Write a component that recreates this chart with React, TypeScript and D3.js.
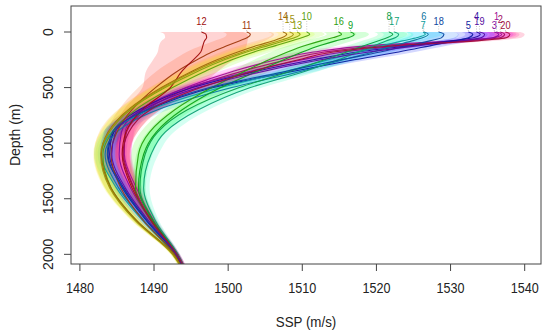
import * as d3 from 'd3';

// depth levels (m) shared by every profile
const DEPTHS = [0, 20, 50, 80, 120, 180, 250, 350, 500, 700, 900, 1100, 1400, 1700, 2000, 2100];

const PROFILE_IDS = [1, 2, 3, 4, 5, 6, 7, 8, 9, 10, 11, 12, 13, 14, 15, 16, 17, 18, 19, 20];

// sound speed (m/s) per profile, one value per depth level
const SSP: number[][] = [
  [1536.2, 1536.9, 1536.0, 1530.5, 1519.5, 1511.5, 1506.5, 1500.8, 1494.3, 1488.6, 1486.1, 1486.0, 1487.6, 1490.0, 1493.2, 1494.0],
  [1536.7, 1537.3, 1536.8, 1532.0, 1521.5, 1513.0, 1508.0, 1502.0, 1495.0, 1489.0, 1486.3, 1485.9, 1487.3, 1489.8, 1493.2, 1494.0],
  [1535.9, 1536.5, 1535.8, 1531.5, 1524.0, 1515.5, 1510.0, 1503.2, 1494.5, 1488.2, 1485.6, 1485.3, 1486.8, 1489.6, 1493.1, 1493.9],
  [1533.5, 1534.0, 1533.2, 1530.0, 1525.0, 1517.5, 1511.5, 1504.0, 1495.2, 1488.0, 1484.5, 1484.0, 1485.9, 1489.1, 1493.0, 1493.8],
  [1532.4, 1533.0, 1532.5, 1530.5, 1527.5, 1523.0, 1517.0, 1509.0, 1498.0, 1489.3, 1484.6, 1483.8, 1485.7, 1489.0, 1492.9, 1493.8],
  [1526.4, 1527.0, 1526.3, 1524.8, 1522.5, 1519.5, 1515.5, 1510.0, 1500.5, 1490.5, 1485.0, 1483.4, 1485.2, 1488.7, 1492.8, 1493.7],
  [1526.3, 1526.6, 1525.5, 1523.5, 1521.0, 1517.5, 1513.5, 1508.0, 1499.0, 1489.5, 1484.3, 1482.9, 1484.9, 1488.5, 1492.7, 1493.7],
  [1521.7, 1522.2, 1521.5, 1520.2, 1518.5, 1516.0, 1513.0, 1508.5, 1501.5, 1494.5, 1490.5, 1488.8, 1488.1, 1489.9, 1493.1, 1493.9],
  [1516.5, 1517.0, 1516.3, 1514.5, 1512.5, 1510.0, 1507.5, 1504.0, 1499.0, 1493.8, 1490.3, 1488.6, 1487.9, 1489.9, 1493.1, 1493.9],
  [1510.6, 1511.0, 1510.0, 1508.5, 1506.5, 1503.5, 1500.5, 1497.0, 1492.5, 1487.5, 1484.4, 1483.1, 1484.2, 1487.7, 1492.6, 1493.6],
  [1502.5, 1503.0, 1502.6, 1501.5, 1500.0, 1497.8, 1495.8, 1493.2, 1490.2, 1487.0, 1485.0, 1484.2, 1485.5, 1488.6, 1492.8, 1493.7],
  [1496.4, 1497.0, 1497.1, 1496.8, 1496.6, 1496.3, 1495.3, 1493.8, 1492.2, 1488.4, 1486.2, 1485.7, 1487.0, 1489.7, 1493.0, 1493.8],
  [1509.3, 1509.7, 1509.0, 1507.5, 1505.5, 1502.5, 1499.5, 1496.0, 1491.5, 1486.8, 1484.0, 1482.9, 1484.1, 1487.6, 1492.6, 1493.6],
  [1507.4, 1507.9, 1507.3, 1506.0, 1504.0, 1501.3, 1498.5, 1495.2, 1491.0, 1486.5, 1483.8, 1482.9, 1484.2, 1487.7, 1492.6, 1493.6],
  [1508.3, 1508.8, 1508.2, 1506.8, 1504.8, 1502.0, 1499.0, 1495.5, 1491.2, 1486.6, 1483.9, 1482.8, 1484.0, 1487.5, 1492.5, 1493.5],
  [1514.9, 1515.3, 1514.2, 1512.5, 1510.5, 1508.0, 1505.5, 1502.3, 1497.8, 1492.8, 1489.4, 1487.9, 1487.5, 1489.6, 1493.0, 1493.8],
  [1522.4, 1523.0, 1522.6, 1521.3, 1519.8, 1517.5, 1514.8, 1510.5, 1503.0, 1496.0, 1491.5, 1489.6, 1488.6, 1490.2, 1493.2, 1493.9],
  [1528.4, 1529.1, 1528.8, 1527.2, 1524.5, 1520.5, 1515.2, 1508.0, 1497.5, 1489.0, 1484.4, 1483.7, 1485.8, 1489.1, 1493.0, 1493.8],
  [1533.9, 1534.6, 1534.2, 1531.5, 1526.0, 1519.0, 1512.5, 1505.0, 1496.0, 1488.5, 1484.8, 1484.3, 1486.1, 1489.3, 1493.0, 1493.8],
  [1537.4, 1538.0, 1537.6, 1533.5, 1523.0, 1514.2, 1509.5, 1503.5, 1496.3, 1489.5, 1486.6, 1485.8, 1487.2, 1489.6, 1493.1, 1493.9],
];

// spread (m/s) of the shaded band at each depth level
const SPREAD = [2.0, 2.0, 2.0, 2.2, 2.3, 2.2, 2.0, 1.8, 1.6, 1.4, 1.2, 1.0, 0.8, 0.5, 0.3, 0.3];
// extra spread in the upper ocean, per profile, and how it fades with depth
const UPPER_EXTRA = [0, 0, 0, 0, 0, 0.3, 0.3, 0, 0, 0, 1.2, 3.6, 0, 0, 0, 0, 0, 0, 0, 0];
const UPPER_FADE = [1, 1, 1, 1, 1, 1, 0.95, 0.85, 0.6, 0.3, 0.1, 0, 0, 0, 0, 0];

// label stagger row per profile (0 = closest to the surface)
const LABEL_TIER = [3, 2, 0, 3, 0, 3, 0, 3, 0, 3, 0, 1, 0, 3, 2, 1, 1, 1, 1, 0];

const X_TICKS = [1480, 1490, 1500, 1510, 1520, 1530, 1540];
const Y_TICKS = [0, 500, 1000, 1500, 2000];

const W = 550;
const H = 334;
const PLOT = { left: 71, right: 541, top: 6, bottom: 264 };
const FONT = '"Liberation Sans", Arial, Helvetica, sans-serif';
const TIER_LIFT = [7, 11, 13, 16];

export default function App() {
  const x = d3.scaleLinear().domain([1478.8, 1542.2]).range([PLOT.left, PLOT.right]);
  const y = d3.scaleLinear().domain([-234, 2087]).range([PLOT.top, PLOT.bottom]);

  // colour by rank of surface speed, rainbow from red to magenta
  const order = d3.sort(d3.range(SSP.length), (i) => SSP[i][0]);
  const rank: number[] = [];
  order.forEach((idx, r) => (rank[idx] = r));
  const hue = (i: number) => (rank[i] / PROFILE_IDS.length) * 360;
  const lineColor = (i: number) => d3.hsl(hue(i), 0.85, 0.34).formatHex();
  const bandColor = (i: number) => d3.hsl(hue(i), 1, 0.5).formatHex();

  const line = d3
    .line<number>()
    .x((v) => x(v))
    .y((_, k) => y(DEPTHS[k]))
    .curve(d3.curveMonotoneY);

  const halfWidth = (i: number, k: number) => SPREAD[k] + UPPER_EXTRA[i] * UPPER_FADE[k];

  const band = (i: number) =>
    d3
      .area<number>()
      .y((_, k) => y(DEPTHS[k]))
      .x0((v, k) => x(v - halfWidth(i, k)))
      .x1((v, k) => x(v + halfWidth(i, k)))
      .curve(d3.curveMonotoneY)(SSP[i]) || '';

  const y0 = y(0);

  return (
    <svg
      width={W}
      height={H}
      style={{ position: 'absolute', left: 0, top: 0, background: '#fff' }}
      fontFamily={FONT}
    >
      <defs>
        <clipPath id="plot-clip">
          <rect x={PLOT.left} y={PLOT.top} width={PLOT.right - PLOT.left} height={PLOT.bottom - PLOT.top} />
        </clipPath>
      </defs>

      <g clipPath="url(#plot-clip)">
        {PROFILE_IDS.map((id, i) => (
          <path key={'b' + id} d={band(i)} fill={bandColor(i)} fillOpacity={0.17} stroke="none" />
        ))}
        {PROFILE_IDS.map((id, i) => (
          <path
            key={'l' + id}
            d={line(SSP[i]) || ''}
            fill="none"
            stroke={lineColor(i)}
            strokeWidth={1.1}
            strokeOpacity={0.95}
          />
        ))}
      </g>

      {/* profile labels */}
      {PROFILE_IDS.map((id, i) => {
        const lx = x(SSP[i][0]);
        const cy = y0 - TIER_LIFT[LABEL_TIER[i]];
        return (
          <g key={'t' + id}>
            <line x1={lx} x2={lx} y1={cy + 5} y2={y0} stroke="#bbb" strokeWidth={0.8} strokeDasharray="1,1.5" />
            <text
              transform={`translate(${lx},${cy + 3.8}) scale(0.88,1)`}
              textAnchor="middle"
              fontSize={10.5}
              fill={lineColor(i)}
            >
              {id}
            </text>
          </g>
        );
      })}

      {/* frame */}
      <rect
        x={PLOT.left}
        y={PLOT.top}
        width={PLOT.right - PLOT.left}
        height={PLOT.bottom - PLOT.top}
        fill="none"
        stroke="#444"
        strokeWidth={1}
      />

      {/* x axis */}
      {X_TICKS.map((t) => (
        <g key={'x' + t}>
          <line x1={x(t)} x2={x(t)} y1={PLOT.bottom} y2={PLOT.bottom + 7} stroke="#444" />
          <text transform={`translate(${x(t)},293) scale(0.9,1)`} textAnchor="middle" fontSize={14} fill="#222">
            {t}
          </text>
        </g>
      ))}
      <text
        transform={`translate(${(PLOT.left + PLOT.right) / 2},327) scale(0.92,1)`}
        textAnchor="middle"
        fontSize={14.5}
        fill="#222"
      >
        SSP (m/s)
      </text>

      {/* y axis */}
      {Y_TICKS.map((t) => (
        <g key={'y' + t}>
          <line x1={PLOT.left - 7} x2={PLOT.left} y1={y(t)} y2={y(t)} stroke="#444" />
          <text transform={`translate(52.5,${y(t)}) rotate(-90)`} textAnchor="middle" fontSize={14} fill="#222">
            {t}
          </text>
        </g>
      ))}
      <text
        transform={`translate(20,${(PLOT.top + PLOT.bottom) / 2}) rotate(-90)`}
        textAnchor="middle"
        fontSize={14}
        fill="#222"
      >
        Depth (m)
      </text>
    </svg>
  );
}
